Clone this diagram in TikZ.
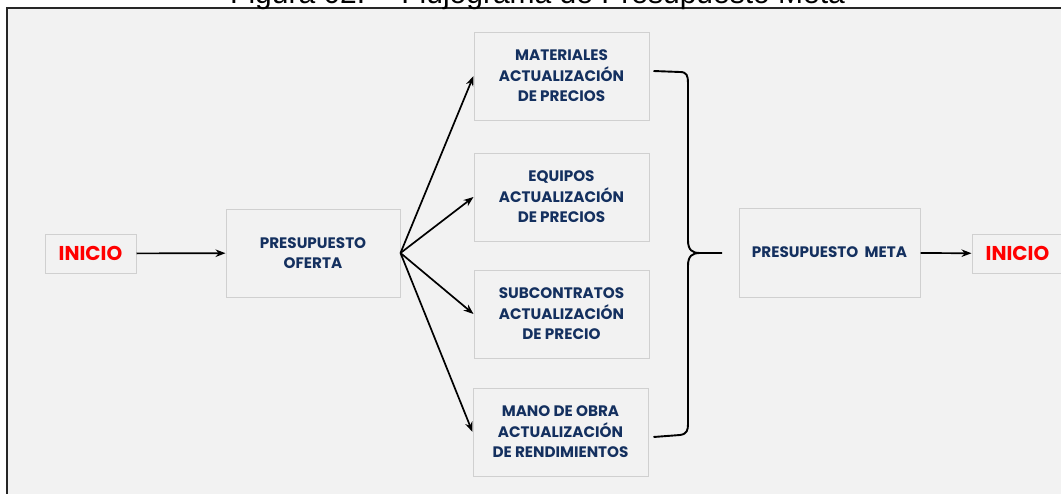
\documentclass[tikz,border=0pt]{standalone}
\usepackage{fontspec}
\setmainfont{Poppins}
\newfontfamily\titlefont{Liberation Sans}
\usetikzlibrary{arrows.meta,calc}
\definecolor{bg}{HTML}{F2F2F2}
\definecolor{boxline}{HTML}{D0D0D0}
\definecolor{navy}{HTML}{14305F}
\definecolor{redtxt}{HTML}{FF0000}
\tikzset{
  pbox/.style={draw=boxline,line width=1pt,fill=bg,inner sep=0pt,align=center,
    text=navy,font=\fontsize{15.2}{20.5}\selectfont\bfseries},
  startbox/.style={draw=boxline,line width=1pt,fill=bg,inner sep=0pt,
    text=redtxt,font=\fontsize{20}{22}\selectfont\bfseries,minimum width=91pt,minimum height=39pt},
  arr/.style={-{Stealth[length=10pt,width=7.5pt]},line width=1.7pt,black},
  bracel/.style={line width=1.9pt,black}
}
\begin{document}
\begin{tikzpicture}[x=1pt,y=-1pt]
\useasboundingbox (0,0) rectangle (1061,493);
\fill[white] (0,0) rectangle (1061,493);
\begin{scope}
\clip (0,0) rectangle (1061,493);
\fill[bg] (7,8) rectangle (1070,500);
\draw[line width=1.6pt,black!85] (7,500) -- (7,8) -- (1070,8);
\node[font=\titlefont\fontsize{30}{32}\selectfont,anchor=base west,inner sep=0pt] (title) at (230,3.5) {Figura 02. – Flujograma de Presupuesto Meta};
\node[startbox] (ini) at (90.5,253.5) {INICIO};
\node[pbox,minimum width=174pt,minimum height=88pt] (of) at (313,253) {PRESUPUESTO\\OFERTA};
\node[pbox,minimum width=175pt,minimum height=88pt] (mat) at (561.5,76) {MATERIALES\\ACTUALIZACIÓN\\DE PRECIOS};
\node[pbox,minimum width=175pt,minimum height=88pt] (eq) at (561.5,197) {EQUIPOS\\ACTUALIZACIÓN\\DE PRECIOS};
\node[pbox,minimum width=175pt,minimum height=88pt] (sub) at (561.5,314) {SUBCONTRATOS\\ACTUALIZACIÓN\\DE PRECIO};
\node[pbox,minimum width=175pt,minimum height=88pt] (mo) at (560.5,432) {MANO DE OBRA\\ACTUALIZACIÓN\\DE RENDIMIENTOS};
\node[pbox,minimum width=181pt,minimum height=89pt] (meta) at (829.5,252.5) {PRESUPUESTO\ \ META};
\node[startbox] (fin) at (1017.5,253.5) {INICIO};
\draw[arr] (ini) -- (of);
\draw[arr] (of.east) -- (mat.west);
\draw[arr] (of.east) -- (eq.west);
\draw[arr] (of.east) -- (sub.west);
\draw[arr] (of.east) -- (mo.west);
\draw[arr] (meta) -- (fin);
\coordinate (bt) at (722,253);
\draw[bracel] ($(mat.east)+(4,-5)$) -- (680,72) .. controls (687,72) and (688,76) .. (688,83) -- (688,240)
  .. controls (688,250) and (692,253) .. (700,253) -- (bt);
\draw[bracel] ($(mo.east)+(5,5)$) -- (680,435) .. controls (687,434) and (688,430) .. (688,424) -- (688,266)
  .. controls (688,256) and (692,253) .. (700,253);
\end{scope}
\end{tikzpicture}
\end{document}
